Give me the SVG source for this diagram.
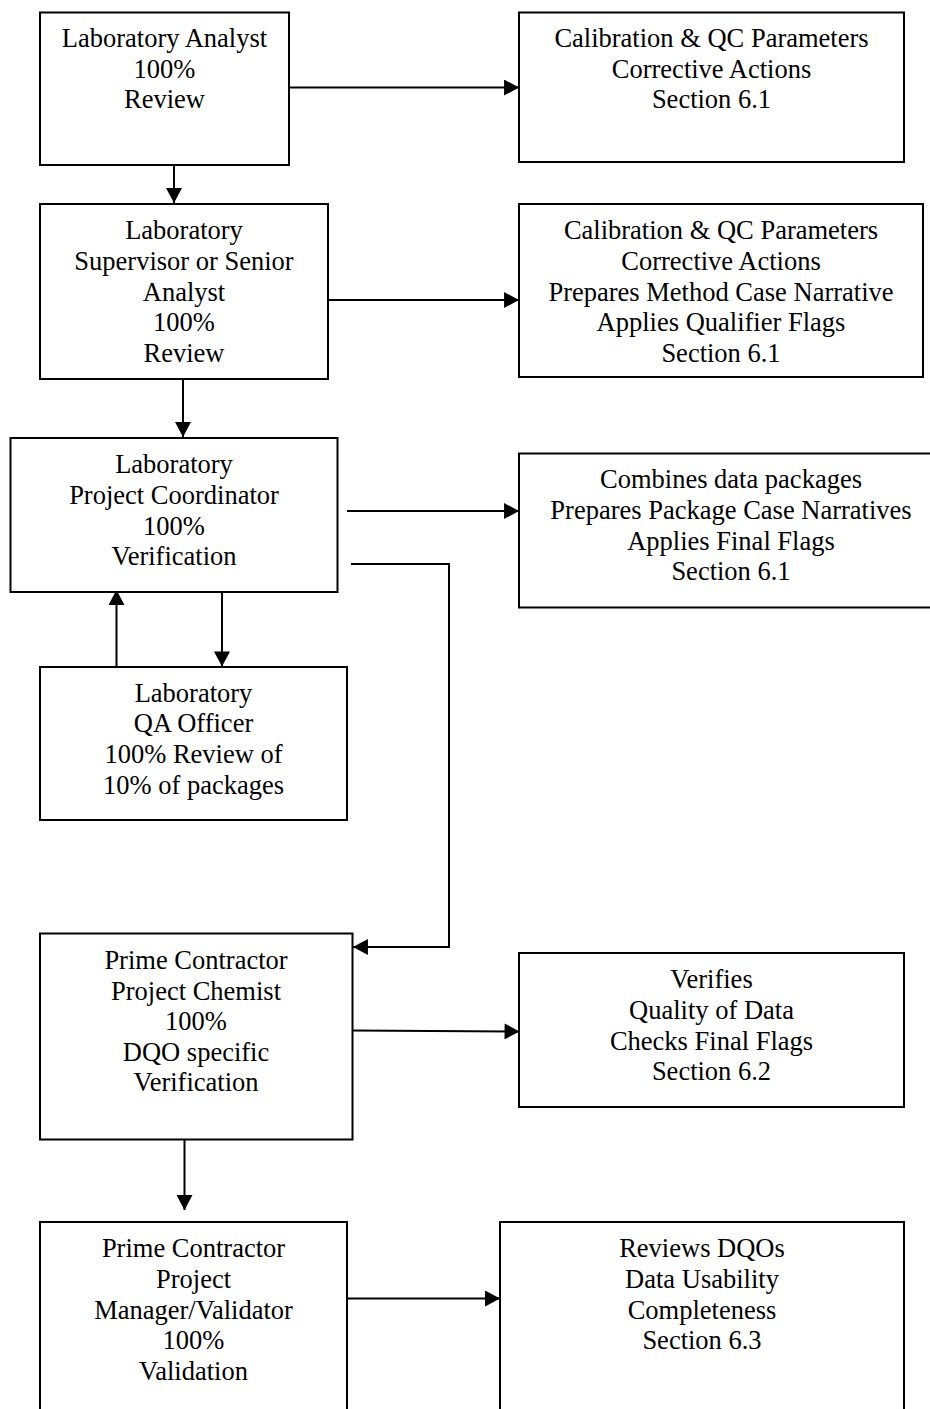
<svg xmlns="http://www.w3.org/2000/svg" width="930" height="1409" viewBox="0 0 930 1409">
<defs>
<style>
.box{fill:#fff;stroke:#000;stroke-width:2}
.t{font-family:"Liberation Serif","Times New Roman",serif;font-size:26.5px;fill:#000;text-anchor:middle}
.c{fill:none;stroke:#000;stroke-width:2}
</style>
<marker id="ah" markerUnits="userSpaceOnUse" markerWidth="16" markerHeight="16" viewBox="0 0 14 15" refX="14" refY="7.5" orient="auto">
<path d="M0,0 L14,7.5 L0,15 Z" fill="#000"/>
</marker>
</defs>
<rect width="930" height="1409" fill="#fff"/>
<g id="connectors">
<path class="c" d="M289,87.5 H519" marker-end="url(#ah)"/>
<path class="c" d="M174,165 V203" marker-end="url(#ah)"/>
<path class="c" d="M328,300 H519" marker-end="url(#ah)"/>
<path class="c" d="M183,379 V437" marker-end="url(#ah)"/>
<path class="c" d="M347,511 H519" marker-end="url(#ah)"/>
<path class="c" d="M351,564 H449 V947 H353" marker-end="url(#ah)"/>
<path class="c" d="M222,592 V666.5" marker-end="url(#ah)"/>
<path class="c" d="M116.5,667 V590" marker-end="url(#ah)"/>
<path class="c" d="M353,1030.5 L519.5,1031.5" marker-end="url(#ah)"/>
<path class="c" d="M184.5,1139 V1210" marker-end="url(#ah)"/>
<path class="c" d="M347,1298.5 H500" marker-end="url(#ah)"/>
</g>
<g id="n1">
<rect class="box" x="40" y="12.5" width="249" height="152.5"/>
<text class="t" x="164.5" y="46.7">Laboratory Analyst</text>
<text class="t" x="164.5" y="77.5">100%</text>
<text class="t" x="164.5" y="108.3">Review</text>
</g>
<g id="r1">
<rect class="box" x="519" y="12.5" width="385" height="149.5"/>
<text class="t" x="711.5" y="46.7">Calibration &amp; QC Parameters</text>
<text class="t" x="711.5" y="77.5">Corrective Actions</text>
<text class="t" x="711.5" y="108.3">Section 6.1</text>
</g>
<g id="n2">
<rect class="box" x="40" y="204" width="288" height="175"/>
<text class="t" x="184" y="239.3">Laboratory</text>
<text class="t" x="184" y="270">Supervisor or Senior</text>
<text class="t" x="184" y="300.7">Analyst</text>
<text class="t" x="184" y="331.3">100%</text>
<text class="t" x="184" y="362">Review</text>
</g>
<g id="r2">
<rect class="box" x="519" y="204" width="404" height="173"/>
<text class="t" x="721" y="239.3">Calibration &amp; QC Parameters</text>
<text class="t" x="721" y="270">Corrective Actions</text>
<text class="t" x="721" y="300.7">Prepares Method Case Narrative</text>
<text class="t" x="721" y="331.3">Applies Qualifier Flags</text>
<text class="t" x="721" y="362">Section 6.1</text>
</g>
<g id="n3">
<rect class="box" x="10.5" y="438" width="327" height="154"/>
<text class="t" x="174" y="473.3">Laboratory</text>
<text class="t" x="174" y="504">Project Coordinator</text>
<text class="t" x="174" y="534.5">100%</text>
<text class="t" x="174" y="565.2">Verification</text>
</g>
<g id="r3">
<rect class="box" x="519" y="453.5" width="424" height="154"/>
<text class="t" x="731" y="488.3">Combines data packages</text>
<text class="t" x="731" y="519">Prepares Package Case Narratives</text>
<text class="t" x="731" y="549.7">Applies Final Flags</text>
<text class="t" x="731" y="580.3">Section 6.1</text>
</g>
<g id="n4">
<rect class="box" x="40" y="667" width="307" height="153"/>
<text class="t" x="193.5" y="701.7">Laboratory</text>
<text class="t" x="193.5" y="732.3">QA Officer</text>
<text class="t" x="193.5" y="763">100% Review of</text>
<text class="t" x="193.5" y="793.5">10% of packages</text>
</g>
<g id="n5">
<rect class="box" x="40" y="933.5" width="312.5" height="206"/>
<text class="t" x="196" y="969">Prime Contractor</text>
<text class="t" x="196" y="999.5">Project Chemist</text>
<text class="t" x="196" y="1030.2">100%</text>
<text class="t" x="196" y="1060.8">DQO specific</text>
<text class="t" x="196" y="1091.4">Verification</text>
</g>
<g id="r5">
<rect class="box" x="519" y="953" width="385" height="154"/>
<text class="t" x="711.5" y="988.3">Verifies</text>
<text class="t" x="711.5" y="1019">Quality of Data</text>
<text class="t" x="711.5" y="1049.7">Checks Final Flags</text>
<text class="t" x="711.5" y="1080.3">Section 6.2</text>
</g>
<g id="n6">
<rect class="box" x="40" y="1222" width="307" height="220"/>
<text class="t" x="193.5" y="1257.3">Prime Contractor</text>
<text class="t" x="193.5" y="1288">Project</text>
<text class="t" x="193.5" y="1318.5">Manager/Validator</text>
<text class="t" x="193.5" y="1349.2">100%</text>
<text class="t" x="193.5" y="1379.6">Validation</text>
</g>
<g id="r6">
<rect class="box" x="500" y="1222" width="404" height="220"/>
<text class="t" x="702" y="1257.3">Reviews DQOs</text>
<text class="t" x="702" y="1288">Data Usability</text>
<text class="t" x="702" y="1318.5">Completeness</text>
<text class="t" x="702" y="1349.2">Section 6.3</text>
</g>
</svg>
